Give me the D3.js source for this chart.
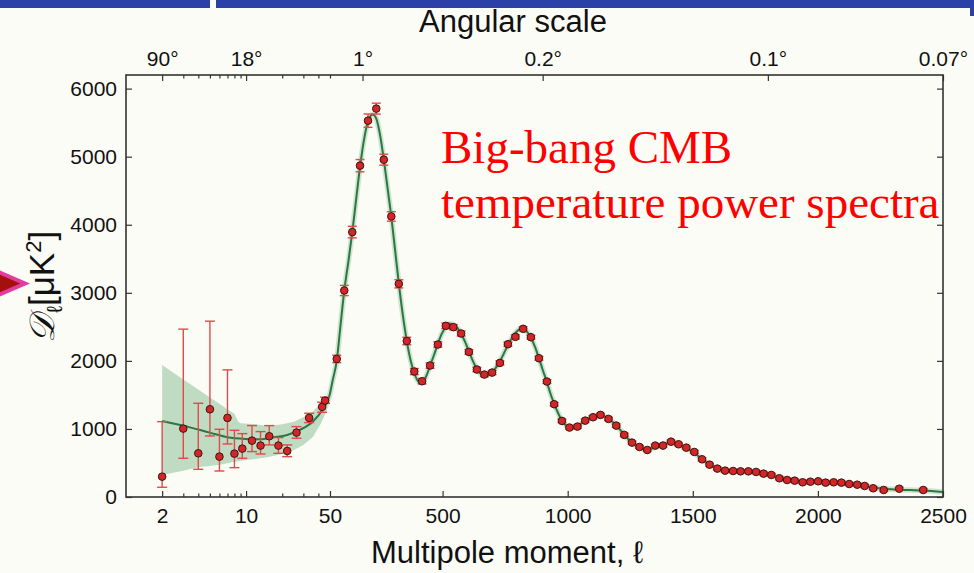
<!DOCTYPE html>
<html><head><meta charset="utf-8">
<script src="https://cdn.jsdelivr.net/npm/d3@7"></script>
<style>
html,body{margin:0;padding:0;background:#fcfcf6;}
svg{display:block;}
</style></head><body>
<svg id="chart" width="974" height="573"></svg>
<script>
// Low multipoles (ℓ < 50): values with asymmetric error bars
const lowEll = [2, 3, 4, 5, 6, 7, 8, 9.3, 11.2, 13.2, 15.6, 18.6, 22, 26.3, 33.5, 43, 45.5];
const lowD   = [299, 1005, 642, 1289, 593, 1162, 637, 711, 828, 755, 892, 755, 676, 946, 1162, 1324, 1417];
const lowHi  = [1107, 2466, 1377, 2583, 995, 1868, 980, 931, 1049, 961, 1049, 873, 765, 1034, 1230, 1392, 1466];
const lowLo  = [143, 569, 407, 897, 382, 779, 431, 569, 667, 632, 765, 642, 593, 863, 1093, 1245, 1377];

// Binned spectrum for ℓ >= 50
const highEll = [77, 107, 139, 170, 202, 235, 265, 295, 325, 357,
  387, 418, 450, 481, 513, 543, 574, 605, 637, 667,
  698, 729, 761, 791, 822, 853, 885, 917, 946, 977,
  1007, 1039, 1070, 1101, 1131, 1163, 1194, 1226, 1257, 1287,
  1318, 1350, 1381, 1413, 1443, 1474, 1506, 1537, 1567, 1598,
  1629, 1661, 1691, 1722, 1753, 1783, 1814, 1846, 1877, 1907,
  1939, 1970, 2001, 2031, 2063, 2094, 2125, 2157, 2187, 2221,
  2263, 2325, 2421];
const highD = [2029, 3034, 3892, 4868, 5529, 5706, 4956, 4122, 3132, 2292,
  1843, 1701, 1931, 2240, 2515, 2495, 2402, 2132, 1873, 1799,
  1828, 1970, 2245, 2353, 2471, 2348, 2039, 1696, 1363, 1118,
  1020, 1034, 1122, 1172, 1206, 1147, 1049, 912, 799, 735,
  691, 755, 755, 813, 775, 725, 662, 554, 475, 417,
  387, 382, 377, 377, 368, 343, 324, 275, 250, 240,
  216, 225, 231, 211, 216, 211, 191, 181, 162, 128,
  103, 122, 103];
const highErr = [55, 75, 85, 90, 98, 80, 80, 70, 60, 55,
  45, 40, 40, 40, 40, 38, 36, 34, 32, 30,
  30, 30, 30, 30, 30, 28, 28, 28, 26, 25,
  24, 24, 24, 24, 24, 24, 24, 24, 22, 22,
  22, 22, 22, 22, 22, 22, 22, 22, 22, 22,
  22, 22, 22, 22, 22, 22, 22, 22, 22, 22,
  22, 22, 22, 22, 22, 22, 22, 22, 22, 22,
  22, 22, 22];

// Best-fit model spectrum
const modelEll = [2, 3, 5, 7, 10, 13, 17, 22, 28, 36, 43, 50,
  60, 78, 90, 107, 125, 139, 155, 170, 186, 202, 221, 235, 250, 265, 280, 295, 310, 325,
  340, 357, 372, 387, 403, 418, 435, 450, 466, 481, 497, 513, 530, 543, 560, 574, 590, 605,
  621, 637, 652, 667, 683, 698, 713, 729, 745, 761, 776, 791, 806, 822, 837, 853, 869, 885,
  900, 917, 931, 946, 962, 977, 993, 1008, 1024, 1039, 1055, 1070, 1086, 1101, 1117, 1132,
  1148, 1163, 1179, 1194, 1210, 1226, 1241, 1257, 1272, 1287, 1303, 1318, 1334, 1350, 1365,
  1381, 1397, 1413, 1428, 1443, 1459, 1474, 1490, 1506, 1521, 1537, 1552, 1567, 1583, 1598,
  1614, 1629, 1645, 1661, 1691, 1722, 1753, 1783, 1814, 1846, 1877, 1907, 1939, 1970, 2001,
  2031, 2063, 2094, 2125, 2157, 2187, 2221, 2263, 2325, 2421, 2500];
const modelD = [1118, 1049, 946, 878, 853, 848, 877, 912, 985, 1108, 1275, 1520,
  1700, 2030, 2450, 3030, 3500, 3890, 4390, 4850, 5250, 5520, 5620, 5560, 5320, 4960, 4540, 4120, 3630, 3140,
  2700, 2290, 2010, 1820, 1700, 1690, 1780, 1930, 2090, 2250, 2400, 2500, 2545, 2530, 2480, 2400, 2280, 2140,
  2000, 1880, 1810, 1785, 1795, 1830, 1900, 1990, 2110, 2230, 2330, 2410, 2460, 2470, 2430, 2340, 2210, 2040,
  1870, 1690, 1520, 1370, 1230, 1120, 1050, 1025, 1025, 1045, 1080, 1120, 1155, 1180, 1195, 1200,
  1185, 1150, 1105, 1050, 985, 920, 855, 800, 755, 725, 705, 700, 710, 730, 755,
  775, 790, 795, 785, 765, 740, 715, 685, 650, 605, 555, 510, 475, 445, 420,
  400, 390, 385, 382, 378, 376, 366, 345, 318, 285, 258, 240, 228, 225, 224,
  218, 212, 204, 192, 178, 160, 140, 120, 108, 95, 74];

// Cosmic-variance band around the model at low ℓ
const bandEll = [2, 3, 4, 5, 6, 7, 8, 8.6, 9, 12, 15, 20, 25, 30, 36, 42, 47, 50];
const bandHi  = [1941, 1727, 1579, 1463, 1369, 1290, 1223, 1107, 1084, 1069, 1044, 1069, 1107, 1172, 1255, 1377, 1466, 1549];
const bandLo  = [324, 387, 437, 456, 475, 495, 519, 527, 534, 559, 583, 632, 691, 765, 880, 1080, 1270, 1400];

// Axis ticks
const yTicks = [0, 1000, 2000, 3000, 4000, 5000, 6000];
const ellMajorLog = [2, 10, 50];
const ellMinorLog = [3, 4, 5, 6, 7, 8, 9, 20, 30, 40];
const ellMajorLin = [500, 1000, 1500, 2000, 2500];
const angEllLog = [2, 10];
const angEllLin = [180, 900, 1800, 2500];
const angLabels = ["90°", "18°", "1°", "0.2°", "0.1°", "0.07°"];
const angMinorLog = [3, 4, 5, 6, 7, 8, 9, 20, 30, 40, 50];

const W = 974, H = 573;
const L = 126, R = 943, T = 75, B = 497;
const svg = d3.select("#chart");

svg.append("rect").attr("width", W).attr("height", H).attr("fill", "#fcfcf6");

// slide header bar
svg.append("rect").attr("x", 0).attr("y", 0).attr("width", W).attr("height", 8).attr("fill", "#2b41a7");
svg.append("rect").attr("x", 210).attr("y", 0).attr("width", 6).attr("height", 10).attr("fill", "#fcfcf6");
svg.append("rect").attr("x", 970).attr("y", 0).attr("width", 4).attr("height", 16).attr("fill", "#2b41a7");

// hybrid ℓ axis: logarithmic below 50, linear above
const xLog = d3.scaleLog().domain([1, 50]).range([L, 330]);
const xLin = d3.scaleLinear().domain([50, 2500]).range([330, R]);
const x = l => (l <= 50 ? xLog(l) : xLin(l));
const y = d3.scaleLinear().domain([0, 6200]).range([B, T]);

svg.append("clipPath").attr("id", "plotclip")
  .append("rect").attr("x", L).attr("y", T).attr("width", R - L).attr("height", B - T);

const plot = svg.append("g").attr("clip-path", "url(#plotclip)");

// band
const band = bandEll.map((l, i) => ({ l, hi: bandHi[i], lo: bandLo[i] }));
plot.append("path")
  .datum(band)
  .attr("d", d3.area().x(d => x(d.l)).y0(d => y(d.lo)).y1(d => y(d.hi)))
  .attr("fill", "#bcd9bf")
  .attr("opacity", 0.95);

// model curve
const model = modelEll.map((l, i) => ({ l, v: modelD[i] }));
const line = d3.line().x(d => x(d.l)).y(d => y(d.v)).curve(d3.curveMonotoneX);
plot.append("path")
  .datum(model.filter(d => d.l >= 43))
  .attr("d", line)
  .attr("fill", "none")
  .attr("stroke", "#cfe5d1")
  .attr("stroke-width", 5.5)
  .attr("stroke-linejoin", "round");
plot.append("path")
  .datum(model)
  .attr("d", line)
  .attr("fill", "none")
  .attr("stroke", "#2a7744")
  .attr("stroke-width", 2);

// error bars
const errColor = "#e04a4a";
const lowPts = lowEll.map((l, i) => ({ l, v: lowD[i], hi: lowHi[i], lo: lowLo[i], cap: 5 }));
const highPts = highEll.map((l, i) => ({ l, v: highD[i], hi: highD[i] + highErr[i], lo: highD[i] - highErr[i], cap: 4.5 }));
const allPts = lowPts.concat(highPts);

const eb = plot.append("g").attr("stroke", errColor).attr("stroke-width", 1.4);
eb.selectAll("line.v").data(allPts).join("line").attr("class", "v")
  .attr("x1", d => x(d.l)).attr("x2", d => x(d.l))
  .attr("y1", d => y(d.hi)).attr("y2", d => y(d.lo));
eb.selectAll("line.t").data(allPts).join("line").attr("class", "t")
  .attr("x1", d => x(d.l) - d.cap).attr("x2", d => x(d.l) + d.cap)
  .attr("y1", d => y(d.hi)).attr("y2", d => y(d.hi));
eb.selectAll("line.b").data(allPts).join("line").attr("class", "b")
  .attr("x1", d => x(d.l) - d.cap).attr("x2", d => x(d.l) + d.cap)
  .attr("y1", d => y(d.lo)).attr("y2", d => y(d.lo));

// data points
plot.append("g").selectAll("circle").data(allPts).join("circle")
  .attr("cx", d => x(d.l)).attr("cy", d => y(d.v)).attr("r", 3.8)
  .attr("fill", "#d42626").attr("stroke", "#3a1414").attr("stroke-width", 1);

// axes
const tickFont = "'Liberation Sans', Arial, sans-serif";
function styleAxis(g) {
  g.select(".domain").remove();
  g.selectAll(".tick line").attr("stroke", "#333").attr("stroke-width", 1.2);
  g.selectAll(".tick text").attr("fill", "#111").style("font-family", tickFont).style("font-size", "21px");
}

svg.append("g").attr("transform", `translate(0,${B})`)
  .call(d3.axisBottom(xLog).tickValues(ellMajorLog).tickSize(-6).tickPadding(11).tickFormat(d3.format("d")))
  .call(styleAxis);
svg.append("g").attr("transform", `translate(0,${B})`)
  .call(d3.axisBottom(xLog).tickValues(ellMinorLog).tickSize(-3.5).tickFormat(""))
  .call(styleAxis);
svg.append("g").attr("transform", `translate(0,${B})`)
  .call(d3.axisBottom(xLin).tickValues(ellMajorLin).tickSize(-6).tickPadding(11).tickFormat(d3.format("d")))
  .call(styleAxis);

svg.append("g").attr("transform", `translate(0,${T})`)
  .call(d3.axisTop(xLog).tickValues(angEllLog).tickSize(-6).tickPadding(9).tickFormat((d, i) => angLabels[i]))
  .call(styleAxis);
svg.append("g").attr("transform", `translate(0,${T})`)
  .call(d3.axisTop(xLog).tickValues(angMinorLog).tickSize(-3.5).tickFormat(""))
  .call(styleAxis);
svg.append("g").attr("transform", `translate(0,${T})`)
  .call(d3.axisTop(xLin).tickValues(angEllLin).tickSize(-6).tickPadding(9).tickFormat((d, i) => angLabels[i + angEllLog.length]))
  .call(styleAxis);

svg.append("g").attr("transform", `translate(${L},0)`)
  .call(d3.axisLeft(y).tickValues(yTicks).tickSize(-6).tickPadding(9).tickFormat(d3.format("d")))
  .call(styleAxis);
svg.append("g").attr("transform", `translate(${R},0)`)
  .call(d3.axisRight(y).tickValues(yTicks).tickSize(-6).tickFormat(""))
  .call(styleAxis);

// frame
svg.append("rect").attr("x", L).attr("y", T).attr("width", R - L).attr("height", B - T)
  .attr("fill", "none").attr("stroke", "#333").attr("stroke-width", 1.6);

// titles
svg.append("text").attr("x", 513).attr("y", 32).attr("text-anchor", "middle")
  .style("font-family", tickFont).style("font-size", "31px").attr("fill", "#111")
  .text("Angular scale");
svg.append("text").attr("x", 507).attr("y", 563).attr("text-anchor", "middle")
  .style("font-family", tickFont).style("font-size", "31px").attr("fill", "#111")
  .text("Multipole moment, ℓ");

const yl = svg.append("text").attr("transform", "translate(54,287) rotate(-90)")
  .attr("text-anchor", "middle").style("font-family", tickFont).style("font-size", "35px").attr("fill", "#111");
yl.append("tspan").style("font-family", "'DejaVu Serif', serif").style("font-style", "italic").text("𝒟");
yl.append("tspan").attr("dx", 2).attr("dy", 8).style("font-size", "22px").text("ℓ");
yl.append("tspan").attr("dy", -8).text("[μK");
yl.append("tspan").attr("dy", -13).style("font-size", "22px").text("2");
yl.append("tspan").attr("dy", 13).text("]");

// annotation
const ann = svg.append("text").style("font-family", "'Liberation Serif', 'Times New Roman', serif")
  .style("font-size", "47px").attr("fill", "#ff0000");
ann.append("tspan").attr("x", 441).attr("y", 163).text("Big-bang CMB");
ann.append("tspan").attr("x", 441).attr("y", 218).text("temperature power spectra");

// pointer arrow at the left edge
svg.append("polygon").attr("points", "-6,270 25,283.5 -6,297")
  .attr("fill", "#a3100e").attr("stroke", "#e23c9e").attr("stroke-width", 4).attr("stroke-linejoin", "miter");
</script>
</body></html>
